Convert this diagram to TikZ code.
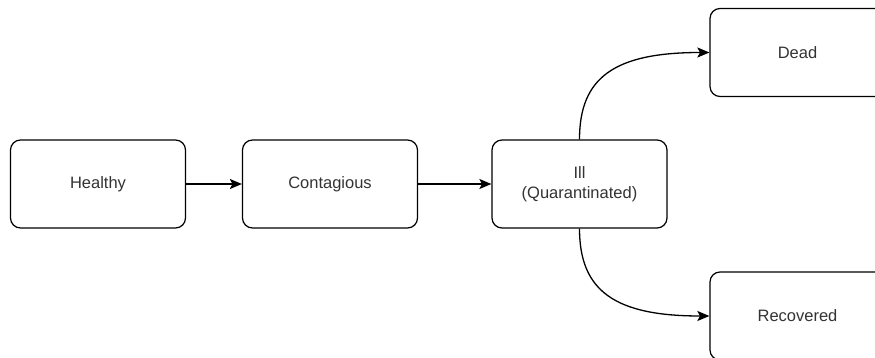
\documentclass[tikz,border=0pt]{standalone}
\usepackage{fontspec}
\setmainfont{Liberation Sans}
\usetikzlibrary{arrows.meta,calc}
\definecolor{txt}{HTML}{333333}
\tikzset{
  box/.style={draw=black, line width=1.2pt, rounded corners=10pt, minimum width=175pt, minimum height=88pt, inner sep=0pt, font=\fontsize{16.5pt}{20pt}\selectfont, text=txt, align=center},
  conn/.style={draw=black, line width=1.3pt, -{Stealth[length=12pt,width=10pt,inset=2.5pt]}}
}
\begin{document}
\begin{tikzpicture}[x=1pt,y=-1pt]
\useasboundingbox (0,0) rectangle (875,358);
\clip (0,0) rectangle (875,358);
\node[box] (healthy) at (98,184) {Healthy};
\node[box] (contagious) at (330,184) {Contagious};
\node[box] (ill) at (579.5,184) {Ill\\(Quarantinated)};
\node[box] (dead) at (797.5,52.5) {Dead};
\node[box] (recovered) at (797.5,316) {Recovered};
\draw[conn] (healthy) -- (contagious);
\draw[conn] (contagious) -- (ill);
\draw[conn] (ill.north) .. controls ($(ill.north)+(0,-62)$) and ($(dead.west)+(-95,0)$) .. (dead.west);
\draw[conn] (ill.south) .. controls ($(ill.south)+(0,62)$) and ($(recovered.west)+(-95,0)$) .. (recovered.west);
\end{tikzpicture}
\end{document}
